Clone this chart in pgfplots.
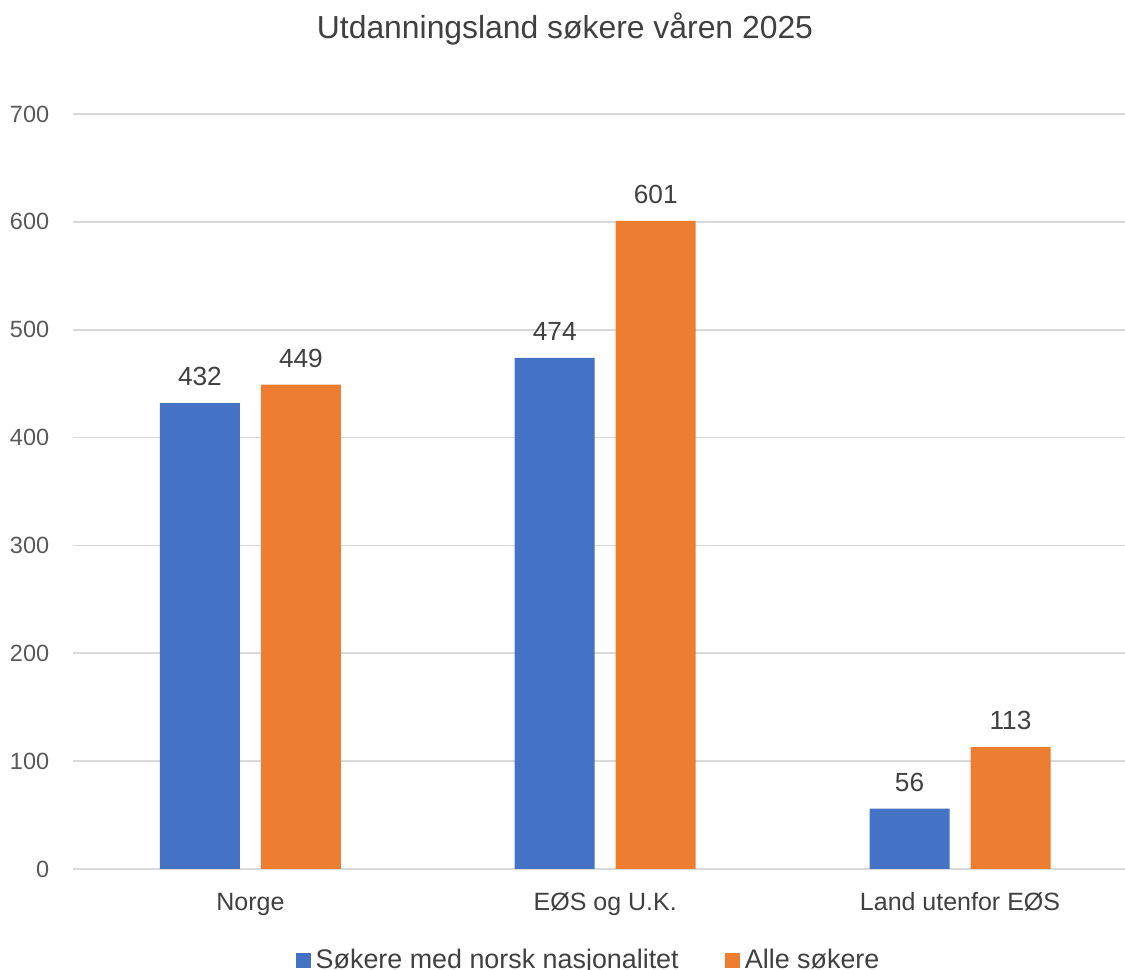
\documentclass[border=0pt]{standalone}
\usepackage{fontspec}
\setmainfont{Liberation Sans}
\usepackage{pgfplots}
\pgfplotsset{compat=1.18}

\definecolor{cblue}{HTML}{4472C4}
\definecolor{corange}{HTML}{ED7D31}
\definecolor{gridgray}{HTML}{D9D9D9}
\definecolor{tickgray}{HTML}{595959}
\definecolor{labelgray}{HTML}{404040}

\begin{document}
\begin{tikzpicture}
\begin{axis}[
    at={(29.2pt,40.4pt)}, anchor=south west,
    scale only axis,
    width=420.8pt, height=302pt,
    ybar=8.4pt, bar width=32pt,
    xmin=-0.5, xmax=2.465,
    ymin=0, ymax=700,
    xtick={0,1,2},
    xticklabels={Norge, EØS og U.K., Land utenfor EØS},
    ytick={0,100,...,700},
    /pgf/number format/assume math mode=true,
    ymajorgrids,
    grid style={draw=gridgray, line width=0.7pt},
    axis x line=bottom, axis y line=left,
    axis line style={-},
    x axis line style={draw=gridgray, line width=0.7pt},
    y axis line style={draw=none},
    major tick length=0pt,
    yticklabel style={color=tickgray, font=\fontsize{9.4}{11}\selectfont, xshift=-6pt},
    xticklabel style={color=labelgray, font=\fontsize{10}{12}\selectfont, yshift=-6pt},
    nodes near coords,
    every node near coord/.append style={color=labelgray, font=\fontsize{10.5}{12}\selectfont, yshift=3.3pt},
    legend style={at={(0.4915,-0.121)}, anchor=center, draw=none, fill=none,
        font=\fontsize{10.75}{12}\selectfont, text=labelgray,
        legend columns=2,
        /tikz/every even column/.append style={column sep=16.5pt}},
    legend image code/.code={\fill[#1] (0pt,-3pt) rectangle (6pt,3pt);},
]
\addplot[fill=cblue, draw=none] coordinates {(0,432) (1,474) (2,56)};
\addplot[fill=corange, draw=none] coordinates {(0,449) (1,601) (2,113)};
\legend{Søkere med norsk nasjonalitet, Alle søkere}
\end{axis}
\node[color=labelgray, font=\fontsize{12.75}{15}\selectfont] at (226pt,376.6pt) {Utdanningsland søkere våren 2025};
\pgfresetboundingbox
\useasboundingbox (0,0) rectangle (450pt,388pt);
\end{tikzpicture}
\end{document}
